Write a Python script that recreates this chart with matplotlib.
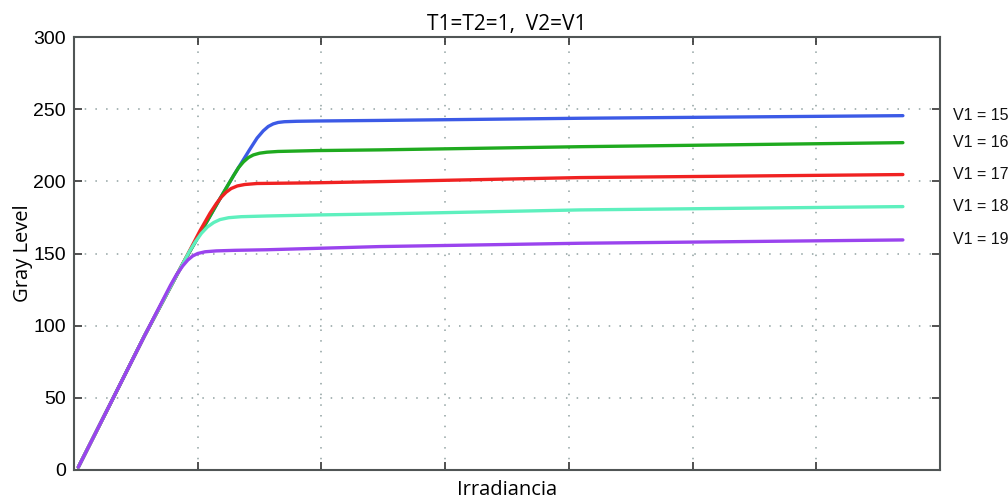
import matplotlib
matplotlib.use("Agg")
import matplotlib.pyplot as plt

# x in units of the (unlabelled) grid spacing
x_v15 = [0.035, 0.30, 0.57, 0.88, 1.18, 1.29, 1.42, 1.48, 1.53, 1.57, 1.61, 1.65, 1.70, 1.80, 1.96, 2.47, 4.09, 6.70]
y_v15 = [2, 47, 93, 143, 188, 204, 222, 230, 235, 238, 239.8, 240.8, 241.3, 241.6, 241.8, 242.2, 243.7, 245.5]

x_v16 = [0.035, 0.30, 0.57, 0.88, 1.18, 1.29, 1.33, 1.37, 1.41, 1.45, 1.50, 1.56, 1.65, 1.96, 2.47, 4.09, 6.70]
y_v16 = [2, 47, 93, 143, 188, 204, 209.5, 213.5, 216.5, 218.3, 219.5, 220.2, 220.7, 221.3, 221.8, 224, 226.8]

x_v17 = [0.035, 0.30, 0.57, 0.88, 1.02, 1.10, 1.15, 1.19, 1.23, 1.27, 1.32, 1.38, 1.48, 1.96, 2.47, 4.09, 6.70]
y_v17 = [2, 47, 93, 143, 166, 178, 184.5, 189, 192.5, 195, 196.8, 197.8, 198.5, 199, 199.8, 202.6, 204.7]

x_v18 = [0.035, 0.30, 0.57, 0.88, 0.93, 0.98, 1.03, 1.08, 1.13, 1.18, 1.25, 1.35, 1.56, 1.96, 2.47, 4.09, 6.70]
y_v18 = [2, 47, 93, 143, 151, 158, 164, 168.5, 171.5, 173.5, 174.8, 175.5, 176, 176.7, 177.4, 180.2, 182.5]

x_v19 = [0.035, 0.30, 0.57, 0.78, 0.83, 0.88, 0.92, 0.96, 1.00, 1.06, 1.15, 1.30, 1.56, 2.47, 4.09, 6.70]
y_v19 = [2, 47, 93, 128, 135.5, 141.5, 145.5, 148.3, 150, 151.2, 151.8, 152.2, 152.6, 154.8, 157.1, 159.4]

labels = ["V1 = 15", "V1 = 16", "V1 = 17", "V1 = 18", "V1 = 19"]
colors = ["#3c5ae6", "#1faa1f", "#f02222", "#5ef0be", "#9a44ee"]

y_ticks = [0, 50, 100, 150, 200, 250, 300]
x_ticks = [0, 1, 2, 3, 4, 5, 6, 7]

fig = plt.figure(figsize=(10.08, 4.99), dpi=100)
ax = fig.add_axes([74/1008, 29/499, 866/1008, 433/499])

series = [(x_v15, y_v15), (x_v16, y_v16), (x_v17, y_v17), (x_v18, y_v18), (x_v19, y_v19)]
for (xs, ys), c, lab in zip(series, colors, labels):
    ax.plot(xs, ys, color=c, lw=2.4, solid_capstyle="round", solid_joinstyle="round")
    ax.text(1.0147, ys[-1], lab, transform=ax.get_yaxis_transform(),
            ha="left", va="center", fontsize=11.5, family=["Liberation Sans", "DejaVu Sans"],
            color="#111111")

ax.set_xlim(0, 7)
ax.set_ylim(0, 300)
ax.set_xticks(x_ticks)
ax.set_xticklabels([])
ax.set_yticks(y_ticks)
ax.set_yticklabels([str(v) for v in y_ticks], fontsize=14, family=["Liberation Sans", "DejaVu Sans"])
ax.tick_params(direction="in", length=6, width=1.2, top=True, right=True, color="#333333", pad=6)
ax.grid(True, linestyle=(0, (1, 6)), color="#8fa0a0", lw=1.1)
for s in ax.spines.values():
    s.set_color("#505555")
    s.set_linewidth(1.5)

ax.set_title("T1=T2=1,  V2=V1", fontsize=15, family=["Open Sans", "DejaVu Sans"], pad=5)
ax.set_xlabel("Irradiancia", fontsize=14.5, family=["Open Sans", "DejaVu Sans"], labelpad=1)
ax.set_ylabel("Gray Level", fontsize=14.5, family=["Open Sans", "DejaVu Sans"], labelpad=0)

fig.savefig("out.png", dpi=100)
